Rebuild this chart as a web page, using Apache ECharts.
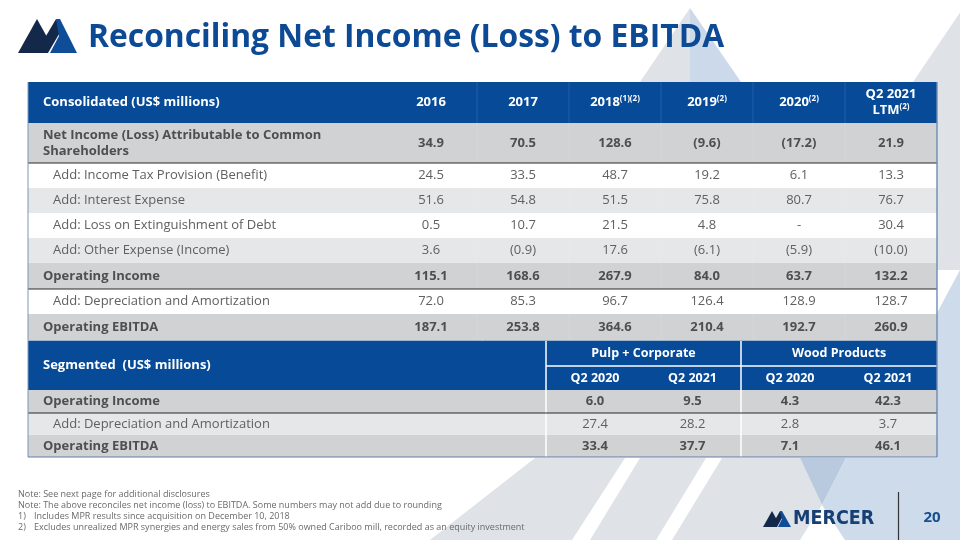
<!DOCTYPE html>
<html><head><meta charset="utf-8">
<script src="https://cdn.jsdelivr.net/npm/echarts@6/dist/echarts.min.js"></script>
<style>html,body{margin:0;padding:0;background:#fff}#c{width:960px;height:540px}</style>
</head><body><div id="c"></div>
<script>
// ---------- DATA ----------
const consolidatedTitle = 'Consolidated (US$ millions)';
const years = ['2016', '2017', '2018', '2019', '2020', 'Q2 2021\nLTM'];
const yearNotes = ['', '', '(1)(2)', '(2)', '(2)', '(2)'];
const rowLabels = [
  'Net Income (Loss) Attributable to Common\nShareholders',
  'Add: Income Tax Provision (Benefit)',
  'Add: Interest Expense',
  'Add: Loss on Extinguishment of Debt',
  'Add: Other Expense (Income)',
  'Operating Income',
  'Add: Depreciation and Amortization',
  'Operating EBITDA'
];
const netIncome = [34.9, 70.5, 128.6, -9.6, -17.2, 21.9];
const incomeTax = [24.5, 33.5, 48.7, 19.2, 6.1, 13.3];
const interestExpense = [51.6, 54.8, 51.5, 75.8, 80.7, 76.7];
const lossOnDebt = [0.5, 10.7, 21.5, 4.8, null, 30.4];
const otherExpense = [3.6, -0.9, 17.6, -6.1, -5.9, -10.0];
const operatingIncome = [115.1, 168.6, 267.9, 84.0, 63.7, 132.2];
const depreciation = [72.0, 85.3, 96.7, 126.4, 128.9, 128.7];
const operatingEbitda = [187.1, 253.8, 364.6, 210.4, 192.7, 260.9];

const segmentedTitle = 'Segmented  (US$ millions)';
const segGroups = ['Pulp + Corporate', 'Wood Products'];
const segPeriods = ['Q2 2020', 'Q2 2021', 'Q2 2020', 'Q2 2021'];
const segRowLabels = ['Operating Income', 'Add: Depreciation and Amortization', 'Operating EBITDA'];
const segOperatingIncome = [6.0, 9.5, 4.3, 42.3];
const segDepreciation = [27.4, 28.2, 2.8, 3.7];
const segOperatingEbitda = [33.4, 37.7, 7.1, 46.1];

const notes = [
  'Note: See next page for additional disclosures',
  'Note: The above reconciles net income (loss) to EBITDA. Some numbers may not add due to rounding'
];
const footnotes = [
  'Includes MPR results since acquisition on December 10, 2018',
  'Excludes unrealized MPR synergies and energy sales from 50% owned Cariboo mill, recorded as an equity investment'
];
const titleText = 'Reconciling Net Income (Loss) to EBITDA';
const pageNumber = '20';

// ---------- LAYOUT / STYLE ----------
const FONT = 'Open Sans';
const BLUE = '#064a98';
const GRAY = '#d1d2d4', LIGHT = '#e6e7e9', WHITE = '#ffffff';
const BOLD_TXT = '#4f4f4f', REG_TXT = '#606060';
const t1Cols = [0, 357, 449, 541, 633, 725, 817, 909];
const t1Rows = [41, 40, 25, 25, 25, 25, 26, 25, 26];
const t1RowStyle = ['b', 'w', 'l', 'w', 'l', 'b', 'w', 'b']; // b bold gray, w white, l light
const t2Cols = [0, 518, 616, 713, 811, 909];
const t2Rows = [25, 24, 23, 22, 22];
const t2RowStyle = ['b', 'l', 'b'];

function fmt(v) {
  if (v === null || v === undefined) return '-';
  return v < 0 ? '(' + Math.abs(v).toFixed(1) + ')' : v.toFixed(1);
}

const cells = [];
function addCell(x0, x1, y0, y1, o) { cells.push(Object.assign({ kind: 'cell', v: [x0, y0, x1, y1] }, o)); }
function addLine(x0, y0, x1, y1, stroke, lw) { cells.push({ kind: 'line', v: [x0, y0, x1, y1], stroke, lw }); }

// table 1
const t1RowEdges = [0];
t1Rows.forEach(h => t1RowEdges.push(t1RowEdges[t1RowEdges.length - 1] + h));
const hdrRich = {
  y: { fill: '#fff', fontSize: 13, fontWeight: 'bold', fontFamily: FONT, lineHeight: 16 },
  s: { fill: '#fff', fontSize: 8, fontWeight: 'bold', fontFamily: FONT, verticalAlign: 'top', lineHeight: 16 }
};
addCell(t1Cols[0], t1Cols[1], 0, t1RowEdges[1], { fill: BLUE, text: consolidatedTitle, align: 'left', pad: 15, color: '#fff', size: 13, weight: 'bold' });
years.forEach((y, i) => {
  const parts = y.split('\n');
  let rt;
  if (parts.length > 1) rt = '{y|' + parts[0] + '}\n{y|' + parts[1] + '}' + (yearNotes[i] ? '{s|' + yearNotes[i] + '}' : '');
  else rt = '{y|' + parts[0] + '}' + (yearNotes[i] ? '{s|' + yearNotes[i] + '}' : '');
  addCell(t1Cols[i + 1], t1Cols[i + 2], 0, t1RowEdges[1], { fill: BLUE, text: rt, rich: hdrRich, align: 'center', color: '#fff' });
});
const t1Data = [netIncome, incomeTax, interestExpense, lossOnDebt, otherExpense, operatingIncome, depreciation, operatingEbitda];
t1Data.forEach((arr, r) => {
  const st = t1RowStyle[r];
  const fill = st === 'b' ? GRAY : st === 'l' ? LIGHT : WHITE;
  const bold = st === 'b';
  const y0 = t1RowEdges[r + 1], y1 = t1RowEdges[r + 2];
  addCell(t1Cols[0], t1Cols[1], y0, y1, { fill, text: rowLabels[r], align: 'left', pad: bold ? 15 : 25, color: bold ? BOLD_TXT : REG_TXT, size: 13, weight: bold ? 'bold' : 'normal', lh: 16 });
  arr.forEach((v, c) => {
    addCell(t1Cols[c + 1], t1Cols[c + 2], y0, y1, { fill, text: fmt(v), align: 'center', color: bold ? BOLD_TXT : REG_TXT, size: 13, weight: bold ? 'bold' : 'normal' });
  });
});
const t1Bottom = t1RowEdges[t1RowEdges.length - 1];
// subtle column separators in table 1
for (let i = 2; i < t1Cols.length - 1; i++) addLine(t1Cols[i], 0, t1Cols[i], t1Bottom, 'rgba(255,255,255,0.12)', 1);
addLine(0, t1RowEdges[2], 909, t1RowEdges[2], '#2a2a2a', 1.2);
addLine(0, t1RowEdges[7], 909, t1RowEdges[7], '#2a2a2a', 1.2);

// table 2
const t2Top = t1Bottom + 1;
const t2RowEdges = [t2Top];
t2Rows.forEach(h => t2RowEdges.push(t2RowEdges[t2RowEdges.length - 1] + h));
addCell(t2Cols[0], t2Cols[1], t2RowEdges[0], t2RowEdges[2], { fill: BLUE, text: segmentedTitle, align: 'left', pad: 15, color: '#fff', size: 13, weight: 'bold' });
segGroups.forEach((g, i) => {
  addCell(t2Cols[1 + 2 * i], t2Cols[3 + 2 * i], t2RowEdges[0], t2RowEdges[1], { fill: BLUE, text: g, align: 'center', color: '#fff', size: 12.5, weight: 'bold' });
});
segPeriods.forEach((p, i) => {
  addCell(t2Cols[1 + i], t2Cols[2 + i], t2RowEdges[1], t2RowEdges[2], { fill: BLUE, text: p, align: 'center', color: '#fff', size: 12.5, weight: 'bold' });
});
const t2Data = [segOperatingIncome, segDepreciation, segOperatingEbitda];
t2Data.forEach((arr, r) => {
  const st = t2RowStyle[r];
  const fill = st === 'b' ? GRAY : st === 'l' ? LIGHT : WHITE;
  const bold = st === 'b';
  const y0 = t2RowEdges[r + 2], y1 = t2RowEdges[r + 3];
  addCell(t2Cols[0], t2Cols[1], y0, y1, { fill, text: segRowLabels[r], align: 'left', pad: bold ? 15 : 25, color: bold ? BOLD_TXT : REG_TXT, size: 13, weight: bold ? 'bold' : 'normal' });
  arr.forEach((v, c) => {
    addCell(t2Cols[c + 1], t2Cols[c + 2], y0, y1, { fill, text: fmt(v), align: 'center', color: bold ? BOLD_TXT : REG_TXT, size: 13, weight: bold ? 'bold' : 'normal' });
  });
});
const t2Bottom = t2RowEdges[t2RowEdges.length - 1];
addLine(t2Cols[1], t2RowEdges[1], 909, t2RowEdges[1], '#ffffff', 1.5);
addLine(t2Cols[1], t2RowEdges[0], t2Cols[1], t2Bottom, '#ffffff', 1.5);
addLine(t2Cols[3], t2RowEdges[0], t2Cols[3], t2Bottom, '#ffffff', 1.5);
addLine(0, t2RowEdges[3], 909, t2RowEdges[3], '#2a2a2a', 1.2);
// outer borders
addLine(0, 0, 0, t2Bottom, '#7d96b8', 1);
addLine(909, 0, 909, t2Bottom, '#6d8bb4', 1.4);
addLine(0, t2Bottom, 909, t2Bottom, '#5f7fa9', 1.2);
addLine(0, t1Bottom + 0.5, 909, t1Bottom + 0.5, '#9fb3cc', 1);

function renderItem(params, api) {
  const c = cells[params.dataIndex];
  const p0 = api.coord([api.value(0), api.value(1)]);
  const p1 = api.coord([api.value(2), api.value(3)]);
  if (c.kind === 'line') {
    return { type: 'line', shape: { x1: p0[0], y1: p0[1], x2: p1[0], y2: p1[1] }, style: { stroke: c.stroke, lineWidth: c.lw }, z2: 10 };
  }
  const children = [{ type: 'rect', shape: { x: p0[0], y: p0[1], width: p1[0] - p0[0], height: p1[1] - p0[1] }, style: { fill: c.fill } }];
  if (c.text) {
    const st = {
      text: c.text,
      x: c.align === 'left' ? p0[0] + c.pad : (p0[0] + p1[0]) / 2,
      y: (p0[1] + p1[1]) / 2,
      align: c.align, verticalAlign: 'middle', fill: c.color
    };
    if (c.rich) { st.rich = c.rich; }
    else { st.fontSize = c.size; st.fontWeight = c.weight; st.fontFamily = FONT; st.lineHeight = c.lh || 16; }
    children.push({ type: 'text', style: st, z2: 5 });
  }
  return { type: 'group', children };
}

// ---------- BACKGROUND / DECOR ----------
const graphics = [
  { type: 'polygon', shape: { points: [[690, 8], [640, 82], [690, 82]] }, style: { fill: '#dfe3e8' } },
  { type: 'polygon', shape: { points: [[690, 8], [741, 82], [690, 82]] }, style: { fill: '#cbd9ea' } },
  { type: 'polygon', shape: { points: [[963, 8], [913, 82], [960, 82]] }, style: { fill: '#dfe3e8' } },
  { type: 'polygon', shape: { points: [[937, 82], [960, 82], [960, 270], [937, 270]] }, style: { fill: '#dfe3e8' } },
  { type: 'polygon', shape: { points: [[937, 313], [960, 270], [960, 460], [937, 460]] }, style: { fill: '#cddbea' } },
  // bottom shapes
  { type: 'polygon', shape: { points: [[430, 540], [535, 458], [625, 458], [572, 540]] }, style: { fill: '#dfe3e8' } },
  { type: 'polygon', shape: { points: [[590, 540], [640, 458], [706, 458], [656, 540]] }, style: { fill: '#dfe3e8' } },
  { type: 'polygon', shape: { points: [[672, 540], [722, 458], [800, 458], [822, 505], [800, 540]] }, style: { fill: '#dfe3e8' } },
  { type: 'polygon', shape: { points: [[800, 458], [846, 458], [822, 505]] }, style: { fill: '#b9cade' } },
  { type: 'polygon', shape: { points: [[846, 458], [960, 458], [960, 540], [845, 540], [822, 505]] }, style: { fill: '#cddbea' } },
  // top logo
  { type: 'polygon', shape: { points: [[18, 53], [37, 19], [47, 37], [38, 53]] }, style: { fill: '#14294a' } },
  { type: 'polygon', shape: { points: [[36, 53], [56, 19], [62, 29], [48, 53]] }, style: { fill: '#14294a' } },
  { type: 'polygon', shape: { points: [[50, 53], [59, 36], [56, 19], [60, 19], [77, 53]] }, style: { fill: '#0f4d99' } },
  // title
  { type: 'text', style: { text: titleText, x: 88, y: 38, verticalAlign: 'middle', fill: '#0d4a96', fontFamily: FONT, fontWeight: 'bold', fontSize: 31.8 } },
  // footer logo
  { type: 'polygon', shape: { points: [[763, 527], [772, 511], [777, 520], [773, 527]] }, style: { fill: '#14294a' } },
  { type: 'polygon', shape: { points: [[771, 527], [780, 511], [783, 516], [777, 527]] }, style: { fill: '#14294a' } },
  { type: 'polygon', shape: { points: [[778, 527], [782, 519], [780, 511], [782, 511], [791, 527]] }, style: { fill: '#0f4d99' } },
  { type: 'text', style: { text: 'MERCER', x: 793, y: 519, verticalAlign: 'middle', fill: '#163f73', fontFamily: 'DejaVu Sans Condensed', fontWeight: 'bold', fontSize: 19.5 } },
  { type: 'line', shape: { x1: 898.5, y1: 492, x2: 898.5, y2: 540 }, style: { stroke: '#333', lineWidth: 1.2 } },
  { type: 'text', style: { text: pageNumber, x: 932, y: 518, align: 'center', verticalAlign: 'middle', fill: '#174f8f', fontFamily: FONT, fontWeight: 'bold', fontSize: 15 } }
];
notes.forEach((n, i) => graphics.push({ type: 'text', style: { text: n, x: 18, y: 494 + i * 11.2, verticalAlign: 'middle', fill: '#6a6a6a', fontFamily: FONT, fontSize: 9 } }));
footnotes.forEach((n, i) => {
  graphics.push({ type: 'text', style: { text: (i + 1) + ')', x: 18, y: 516.4 + i * 11.2, verticalAlign: 'middle', fill: '#6a6a6a', fontFamily: FONT, fontSize: 9 } });
  graphics.push({ type: 'text', style: { text: n, x: 34, y: 516.4 + i * 11.2, verticalAlign: 'middle', fill: '#6a6a6a', fontFamily: FONT, fontSize: 9 } });
});
graphics.forEach(g => { g.z = -10; });

const chart = echarts.init(document.getElementById('c'), null, { renderer: 'canvas' });
chart.setOption({
  animation: false,
  backgroundColor: '#ffffff',
  graphic: { elements: graphics },
  grid: { left: 28, top: 82, width: 909, height: t2Bottom, containLabel: false },
  xAxis: { type: 'value', min: 0, max: 909, show: false },
  yAxis: { type: 'value', min: 0, max: t2Bottom, inverse: true, show: false },
  series: [{
    type: 'custom',
    coordinateSystem: 'cartesian2d',
    clip: false,
    silent: true,
    renderItem,
    data: cells.map(c => c.v)
  }]
});
</script></body></html>
